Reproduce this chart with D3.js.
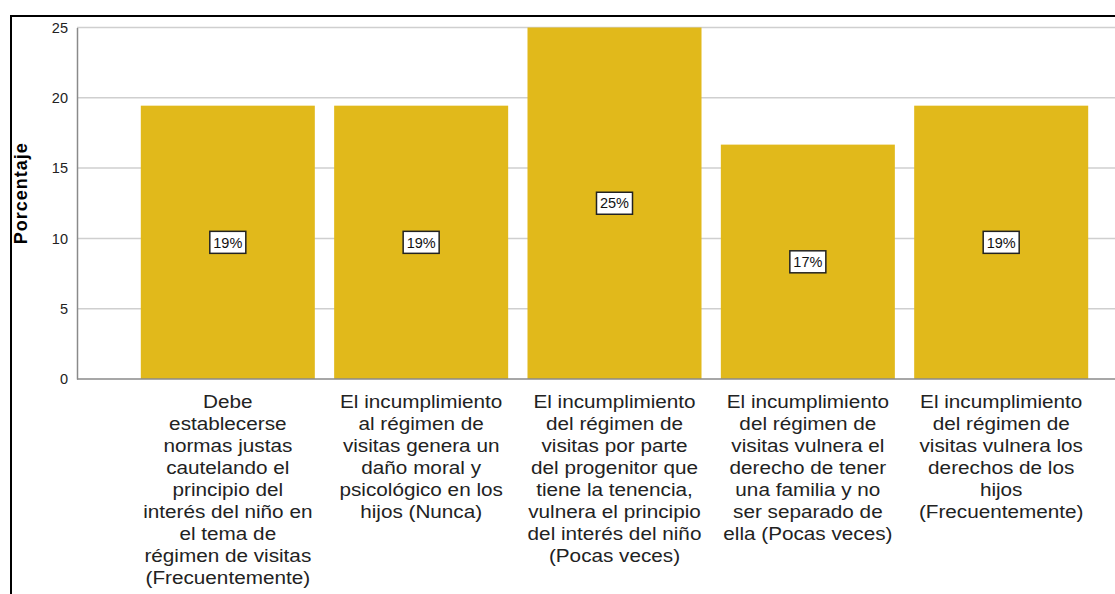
<!DOCTYPE html>
<html>
<head>
<meta charset="utf-8">
<script src="https://cdn.jsdelivr.net/npm/d3@7"></script>
<style>
  html, body { margin: 0; padding: 0; background: #fff; }
  svg { display: block; font-family: "Liberation Sans", Arial, sans-serif; }
</style>
</head>
<body>
<div id="chart"></div>
<script>
// categories (wrapped as in the original), values in percent
const categories = [
  ["Debe", "establecerse", "normas justas", "cautelando el", "principio del", "interés del niño en", "el tema de", "régimen de visitas", "(Frecuentemente)"],
  ["El incumplimiento", "al régimen de", "visitas genera un", "daño moral y", "psicológico en los", "hijos (Nunca)"],
  ["El incumplimiento", "del régimen de", "visitas por parte", "del progenitor que", "tiene la tenencia,", "vulnera el principio", "del interés del niño", "(Pocas veces)"],
  ["El incumplimiento", "del régimen de", "visitas vulnera el", "derecho de tener", "una familia y no", "ser separado de", "ella (Pocas veces)"],
  ["El incumplimiento", "del régimen de", "visitas vulnera los", "derechos de los", "hijos", "(Frecuentemente)"]
];
const values = [19.44, 19.44, 25.0, 16.67, 19.44];
const yTicks = [0, 5, 10, 15, 20, 25];
const yTitle = "Porcentaje";

const width = 1115, height = 594;

const svg = d3.select("#chart")
  .append("svg")
  .attr("width", width)
  .attr("height", height);

// outer frame (only top and left visible)
svg.append("rect")
  .attr("x", 11)
  .attr("y", 16)
  .attr("width", width + 20)
  .attr("height", height + 20)
  .attr("fill", "none")
  .attr("stroke", "#000")
  .attr("stroke-width", 2);

const x = d3.scaleBand()
  .domain(d3.range(values.length))
  .range([77, 1152])
  .paddingInner(0.1)
  .paddingOuter(0.33);

const y = d3.scaleLinear()
  .domain([0, 25])
  .range([379, 27.5]);

// gridlines
svg.append("g")
  .selectAll("line")
  .data(yTicks.filter(d => d > 0))
  .join("line")
  .attr("x1", 77)
  .attr("x2", width)
  .attr("y1", d => y(d))
  .attr("y2", d => y(d))
  .attr("stroke", "#cfcfcf")
  .attr("stroke-width", 1.5);

// bars
svg.append("g")
  .selectAll("rect")
  .data(values)
  .join("rect")
  .attr("x", (d, i) => x(i))
  .attr("y", d => y(d))
  .attr("width", x.bandwidth())
  .attr("height", d => y(0) - y(d))
  .attr("fill", "#e1b91b");

// y axis
const yAxis = svg.append("g")
  .attr("transform", "translate(77,0)")
  .call(d3.axisLeft(y).tickValues(yTicks).tickSize(0).tickPadding(9));
yAxis.select(".domain").attr("stroke", "#8a8a8a").attr("stroke-width", 1.5);
yAxis.selectAll("text")
  .attr("font-size", 14.5)
  .attr("font-family", "Liberation Sans, Arial, sans-serif")
  .attr("fill", "#222");

// baseline
svg.append("line")
  .attr("x1", 77)
  .attr("x2", width)
  .attr("y1", y(0))
  .attr("y2", y(0))
  .attr("stroke", "#8a8a8a")
  .attr("stroke-width", 1.5);

// y title
svg.append("text")
  .attr("transform", `translate(27,${(y(0) + y(25)) / 2 - 10}) rotate(-90)`)
  .attr("text-anchor", "middle")
  .attr("font-size", 18)
  .attr("font-weight", "bold")
  .attr("letter-spacing", 1)
  .attr("fill", "#000")
  .text(yTitle);

// value labels
const labels = svg.append("g")
  .selectAll("g")
  .data(values)
  .join("g")
  .attr("transform", (d, i) => `translate(${x(i) + x.bandwidth() / 2},${(y(0) + y(d)) / 2})`);

labels.append("rect")
  .attr("x", -18)
  .attr("y", -11)
  .attr("width", 36)
  .attr("height", 22)
  .attr("fill", "#fff")
  .attr("stroke", "#222")
  .attr("stroke-width", 1.5);

labels.append("text")
  .attr("text-anchor", "middle")
  .attr("dy", "0.36em")
  .attr("font-size", 14.5)
  .attr("fill", "#111")
  .text(d => Math.round(d) + "%");

// category labels
const cats = svg.append("g")
  .selectAll("g")
  .data(categories)
  .join("g")
  .attr("transform", (d, i) => `translate(${x(i) + x.bandwidth() / 2},408) scale(1.12,1)`);

cats.append("text")
  .attr("text-anchor", "middle")
  .attr("font-size", 18.5)
  .attr("fill", "#222")
  .selectAll("tspan")
  .data(d => d)
  .join("tspan")
  .attr("x", 0)
  .attr("y", (d, i) => i * 22)
  .text(d => d);
</script>
</body>
</html>
